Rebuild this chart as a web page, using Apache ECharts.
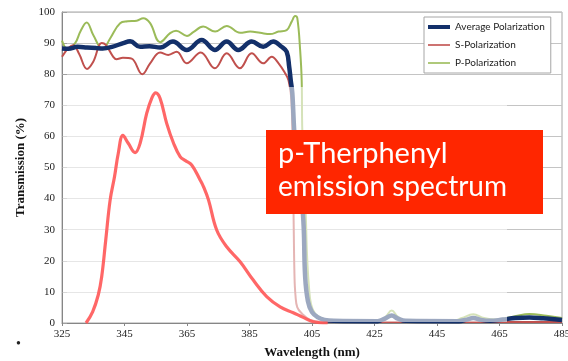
<!DOCTYPE html>
<html>
<head>
<meta charset="utf-8">
<script src="https://cdn.jsdelivr.net/npm/echarts@6/dist/echarts.min.js"></script>
<style>
  html, body { margin: 0; padding: 0; background: #fff; }
  #chart { width: 568px; height: 361px; }
</style>
</head>
<body>
<div id="chart"></div>
<script>
// wavelength (nm) / transmission (%)
var avgNm  = [325, 327, 330, 333, 336, 338, 341, 344.6, 346.8, 350, 353, 356.4, 360.5, 364.9, 369.7, 373.9, 377.7, 381.4, 385.7, 389.4, 392.6, 395.3, 396.9, 397.7, 398.2, 398.7, 399.3, 400.5, 402.1, 402.8, 403.7, 405, 406.9, 409, 412, 426, 428.5, 430.5, 432.5, 435, 452, 454.5, 456.6, 459, 462, 466, 470, 474.6, 479, 485];
var avgVal = [88.3, 88.2, 88.8, 88.6, 88.4, 88.3, 88.8, 90, 90.6, 88.8, 89, 88.6, 90.5, 87.8, 91, 87.8, 90.5, 87.8, 90.5, 88.8, 90.5, 88.8, 87.2, 82.4, 78, 74, 62, 45, 35, 15, 7, 3.5, 1.8, 1.0, 0.7, 0.6, 1.5, 2.4, 1.4, 0.7, 0.6, 1.1, 1.6, 1.0, 0.7, 1.1, 1.6, 1.8, 1.5, 1.0];

var sNm  = [325, 328.6, 330.5, 333, 335, 337.7, 339, 341.4, 342.4, 344.5, 347.3, 350.7, 353.2, 356.4, 359, 361.7, 364.9, 369.4, 373.9, 377.7, 381.9, 385.7, 389.4, 392.1, 394.3, 396.4, 397.5, 398.4, 398.9, 399.1, 399.4, 399.7, 400.3, 401.8, 404.4, 408, 485];
var sVal = [85.6, 89.3, 86.5, 81.7, 84, 90, 89.4, 85.6, 84.8, 85.3, 85, 80, 83.5, 87, 86.2, 87.2, 83.5, 87, 81.9, 86.7, 81.9, 86.7, 83.5, 85.6, 83.5, 80.3, 78, 72, 50, 35, 15, 9, 5, 3, 1, 0.4, 0.3];

var pNm  = [325, 326.7, 329.2, 331, 332.9, 335, 338, 340.4, 343.6, 346, 348.9, 351, 353.2, 356.4, 359.6, 361.5, 365, 367, 370.2, 374, 377.7, 382, 385.2, 388.4, 391.6, 394.3, 396.9, 398.5, 399.6, 400.3, 401.2, 401.7, 401.9, 403, 403.4, 404, 404.7, 406, 408.2, 412, 426, 428.5, 430.5, 432.5, 435, 450, 453, 456.6, 460, 464, 470, 474.6, 480, 485];
var pVal = [90.8, 88.2, 90, 94, 96.6, 92.6, 88, 91.5, 96.4, 97, 97.2, 98, 96.4, 90.3, 93.2, 94, 92.3, 93.5, 95.3, 93.7, 95.5, 93.3, 93.7, 93.3, 92.9, 93.7, 94.2, 96.9, 98.7, 98, 87.8, 78, 62, 35, 22, 12, 6, 3, 1.5, 0.8, 0.6, 2, 4, 2, 0.7, 0.6, 1.6, 2.8, 1.6, 1.1, 2.2, 2.9, 2.3, 1.6];

// p-Terphenyl emission spectrum (overlay)
var emNm  = [332.7, 334.8, 336.6, 337.7, 339, 340.4, 341.8, 343, 344.5, 346.2, 348.4, 350, 352.1, 353.8, 355, 356.4, 358.5, 360.7, 362.8, 364.5, 366.5, 369.2, 370.3, 371.9, 374.5, 377.7, 382, 386.2, 390.5, 394.8, 399, 402.2, 405.4, 410];
var emVal = [0, 3.6, 9, 14.9, 26.7, 39.5, 47, 54.5, 60.3, 57.8, 54.8, 57.8, 67.4, 72.5, 74, 72.2, 64.2, 57.8, 53.5, 52.2, 50.8, 46, 43.8, 39.5, 29.9, 24.5, 19.7, 13.8, 8.5, 5.2, 3.3, 1.8, 0.4, 0];

var xTicks = [325, 485, 20];
var yTicks = [0, 100, 10];

function pairs(xs, ys) {
  return xs.map(function (x, i) { return [x, ys[i]]; });
}

var serif = '"Liberation Serif", "DejaVu Serif", serif';
var sans = 'Lato, "Open Sans", sans-serif';

var myChart = echarts.init(document.getElementById('chart'));

myChart.setOption({
  animation: false,
  grid: { left: 62, right: 6, top: 12, bottom: 38, outerBoundsMode: 'none', show: true, borderColor: '#a6a6a6', borderWidth: 1 },
  xAxis: {
    type: 'value', min: xTicks[0], max: xTicks[1], interval: xTicks[2],
    name: 'Wavelength (nm)', nameLocation: 'middle', nameGap: 23,
    nameTextStyle: { fontFamily: serif, fontWeight: 'bold', fontSize: 13, color: '#111' },
    axisLine: { lineStyle: { color: '#868686' } },
    axisTick: { show: true, length: 3, lineStyle: { color: '#868686' } },
    axisLabel: { fontFamily: serif, fontSize: 11, color: '#222', margin: 6 },
    splitLine: { show: false }
  },
  yAxis: {
    type: 'value', min: yTicks[0], max: yTicks[1], interval: yTicks[2],
    name: 'Transmission (%)', nameLocation: 'middle', nameGap: 34,
    nameTextStyle: { fontFamily: serif, fontWeight: 'bold', fontSize: 13, color: '#111' },
    axisLine: { show: true, lineStyle: { color: '#868686' } },
    axisTick: { show: true, inside: true, length: 5, lineStyle: { color: '#a0a0a0' } },
    axisLabel: { fontFamily: serif, fontSize: 11, color: '#222', margin: 7 },
    splitLine: { lineStyle: { color: '#c4c4c4' } }
  },
  legend: {
    left: 424, top: 17, orient: 'vertical',
    padding: [5, 6, 5, 4], itemGap: 8, itemWidth: 22, itemHeight: 4,
    backgroundColor: '#fff', borderColor: '#a6a6a6', borderWidth: 1,
    textStyle: { fontFamily: sans, fontSize: 10, color: '#222' },
    data: [
      { name: 'Average Polarization', icon: 'path://M0,0h22v4h-22z' },
      { name: 'S-Polarization', icon: 'path://M0,1.2h22v1.6h-22z' },
      { name: 'P-Polarization', icon: 'path://M0,1.2h22v1.6h-22z' }
    ],
    z: 30
  },
  series: [
    { name: 'P-Polarization', type: 'line', data: pairs(pNm, pVal), smooth: 0.4, showSymbol: false,
      itemStyle: { color: '#9bbb59' }, lineStyle: { color: '#9bbb59', width: 2 }, z: 2 },
    { name: 'S-Polarization', type: 'line', data: pairs(sNm, sVal), smooth: 0.4, showSymbol: false,
      itemStyle: { color: '#c0504d' }, lineStyle: { color: '#c0504d', width: 2 }, z: 2 },
    { name: 'Average Polarization', type: 'line', data: pairs(avgNm, avgVal), smooth: 0.4, showSymbol: false,
      itemStyle: { color: '#13306a' }, lineStyle: { color: '#13306a', width: 4.5 }, z: 3 },
    { name: 'Emission', type: 'line', data: pairs(emNm, emVal), smooth: 0.4, showSymbol: false,
      itemStyle: { color: '#ff5757' }, lineStyle: { color: '#ff5757', width: 3.2, opacity: 0.9 }, z: 10 }
  ],
  graphic: [
    // pale pasted panel behind the emission trace
    { type: 'rect', left: 63, top: 87, shape: { width: 444, height: 235 },
      style: { fill: 'rgba(255,255,255,0.58)' }, z: 5, silent: true },
    { type: 'rect', left: 266, top: 130, shape: { width: 277, height: 84 },
      style: { fill: '#ff2600' }, z: 20 },
    { type: 'text', left: 278, top: 139, z: 21,
      style: { text: 'p-Therphenyl', fill: '#fff', font: '29px ' + sans } },
    { type: 'text', left: 278, top: 173, z: 21,
      style: { text: 'emission spectrum', fill: '#fff', font: '28px ' + sans } },
    { type: 'text', left: 16, top: 337, z: 21,
      style: { text: '•', fill: '#222', font: '14px ' + serif } }
  ]
});
</script>
</body>
</html>
